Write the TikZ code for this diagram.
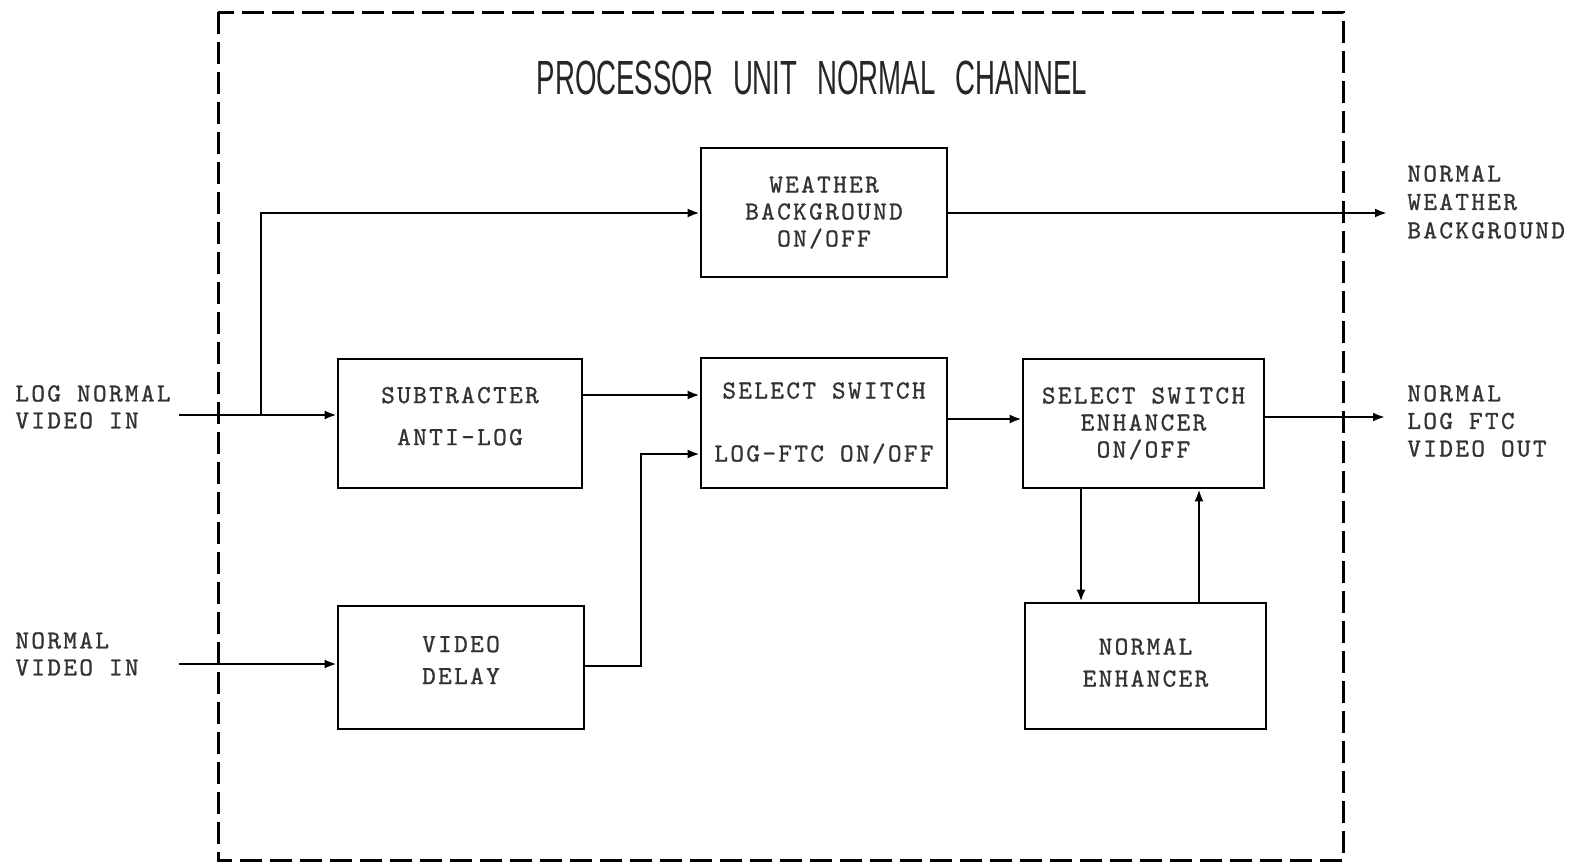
\documentclass[tikz,border=0pt]{standalone}
\usepackage{fontspec}
\newfontfamily\titlefont[FakeStretch=0.575,WordSpace=2.6]{Liberation Sans}
\newfontfamily\twfam[LetterSpace=9,FakeBold=1]{lmmono10-regular.otf}
\newcommand{\twfont}[1]{\twfam\fontsize{13}{#1}\selectfont}
\usetikzlibrary{arrows.meta}
\begin{document}
\begin{tikzpicture}[x=0.5pt,y=-0.5pt,
  blk/.style={draw, line width=1.3pt, rectangle, inner sep=0pt, align=center,
    text=black!80, font=\twfont{13.5pt}},
  lbl/.style={align=left, anchor=west, inner sep=0pt, text=black!80,
    font=\twfont{13.5pt}},
  arr/.style={line width=1.2pt, -{Latex[length=6pt,width=4.5pt]}},
  frame/.style={line width=1.5pt, dash pattern=on 11pt off 4pt}]
\useasboundingbox (0,0) rectangle (1576,867);
\fill[white] (0,0) rectangle (1576,867);

% dashed enclosure
\draw[frame] (218,12) rectangle (1343,860);
\node[font=\titlefont\fontsize{24}{24}\selectfont, text=black!85] (title) at (812,78) {PROCESSOR UNIT NORMAL CHANNEL};

% blocks
\node[blk, minimum width=123pt, minimum height=64.5pt] (W) at (824,212.5) {WEATHER\\BACKGROUND\\ON/OFF};
\node[blk, minimum width=122pt, minimum height=64.5pt] (A) at (460,423.5) {SUBTRACTER\\[7.5pt]ANTI-LOG\\[-6pt]\mbox{}};
\node[blk, minimum width=123pt, minimum height=65pt] (S) at (824,423) {SELECT SWITCH\\[18pt]LOG-FTC ON/OFF};
\node[blk, minimum width=123pt, minimum height=61.5pt] (D) at (461,667.5) {VIDEO\\[2.5pt]DELAY\\[-6pt]\mbox{}};
\node[blk, minimum width=120.5pt, minimum height=64.5pt] (E) at (1143.5,423.5) {SELECT SWITCH\\ENHANCER\\ON/OFF};
\node[blk, minimum width=120.5pt, minimum height=63pt] (N) at (1145.5,666) {NORMAL\\[2.5pt]ENHANCER\\[-10pt]\mbox{}};

% outside labels
\node[lbl] (inA) at (15,407) {LOG NORMAL\\VIDEO IN};
\node[lbl] (inB) at (15,654) {NORMAL\\VIDEO IN};
\node[lbl, font=\twfont{14.2pt}] (outW) at (1407,202) {NORMAL\\WEATHER\\BACKGROUND};
\node[lbl, font=\twfont{13.8pt}] (outV) at (1407,421) {NORMAL\\LOG FTC\\VIDEO OUT};

% connector end points
\coordinate (pA) at (179,415);
\coordinate (br) at (261,415);
\coordinate (pB) at (179,664);
\coordinate (qW) at (1387,213);
\coordinate (qV) at (1385,417);
\coordinate (dl) at (641,666);
\coordinate (dt) at (641,454);

% connectors
\draw[arr] (pA) -- (pA -| A.west);
\draw[arr] (br) |- (W.west |- 0,213);
\draw[arr] (W.east |- 0,213) -- (qW);
\draw[arr] (A.east |- 0,395) -- (S.west |- 0,395);
\draw[arr] (pB) -- (pB -| D.west);
\draw[arr] (D.east |- dl) -- (dl) -- (dt) -- (S.west |- dt);
\draw[arr] (S.east |- 0,419) -- (E.west |- 0,419);
\draw[arr] (E.east |- qV) -- (qV);
\draw[arr] (E.south -| 1081,0) -- (N.north -| 1081,0);
\draw[arr] (N.north -| 1199,0) -- (E.south -| 1199,0);
\end{tikzpicture}
\end{document}
